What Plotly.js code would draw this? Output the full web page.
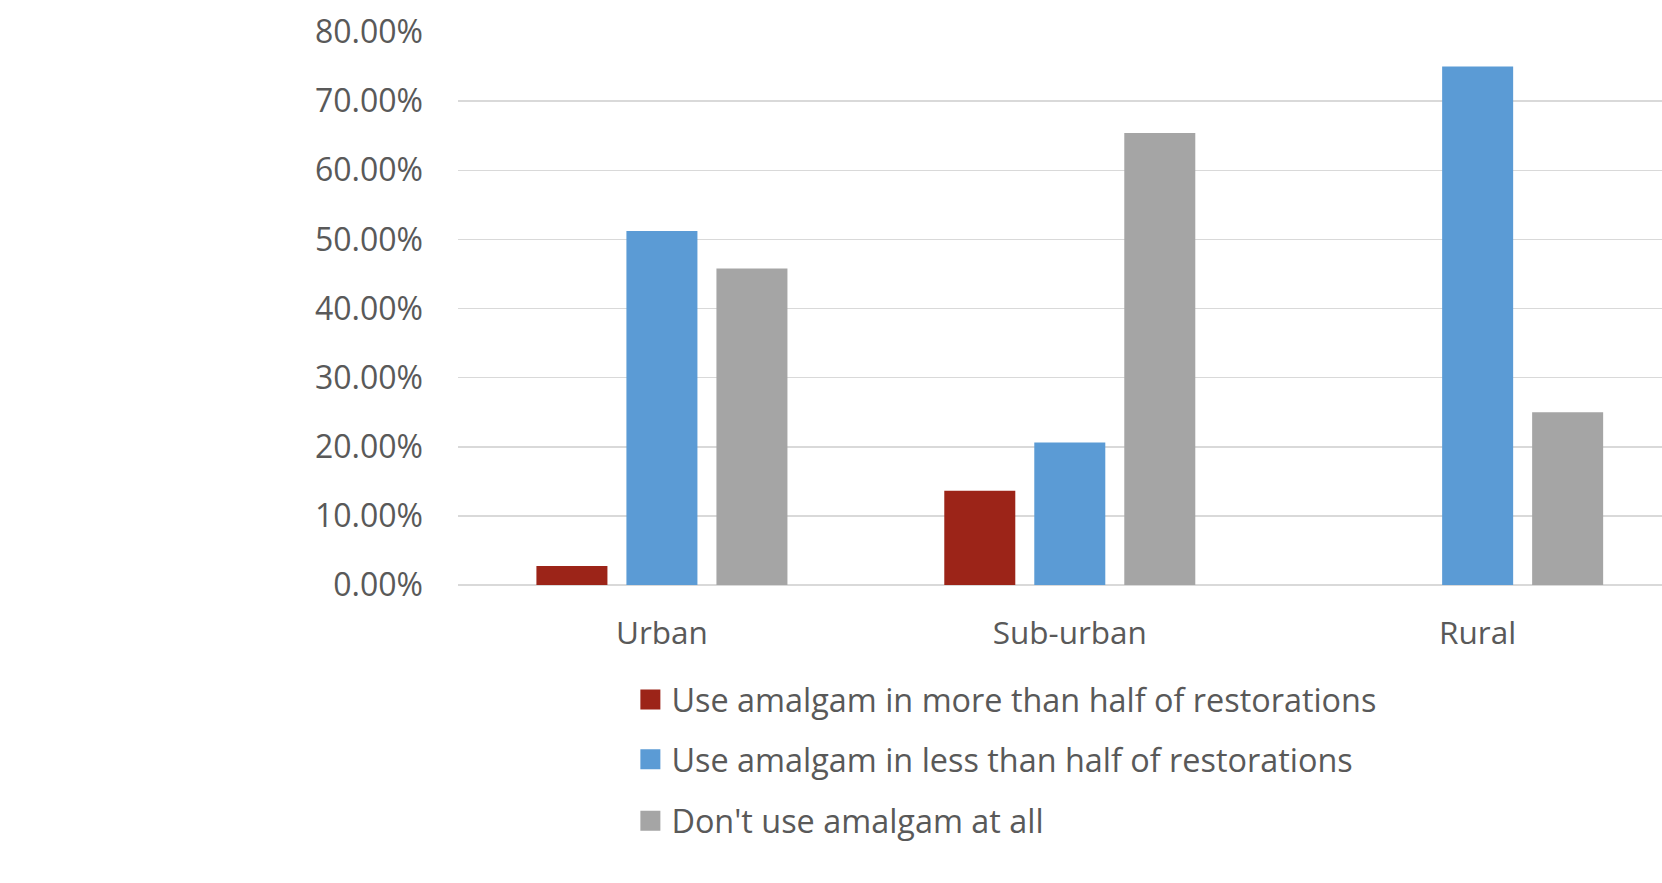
<!DOCTYPE html>
<html>
<head>
<meta charset="utf-8">
<script src="https://cdn.plot.ly/plotly-3.0.1.min.js"></script>
<style>
  html, body { margin: 0; padding: 0; background: #ffffff; overflow: hidden; }
  #chart { width: 1662px; height: 883px; }
</style>
</head>
<body>
<div id="chart"></div>
<script>
// Area types on the x axis
const categories = ["Urban", "Sub-urban", "Rural"];

// Share of respondents (%) for each amalgam-use group
const moreThanHalf = [2.75, 13.65, 0];
const lessThanHalf = [51.2, 20.6, 75.0];
const notAtAll = [45.8, 65.4, 25.0];

// Y axis ticks and their labels
const yTickValues = [0, 10, 20, 30, 40, 50, 60, 70, 80];
const yTickLabels = ["0.00%", "10.00%", "20.00%", "30.00%", "40.00%", "50.00%", "60.00%", "70.00%", "80.00%"];

const seriesNames = [
  "Use amalgam in more than half of restorations",
  "Use amalgam in less than half of restorations",
  "Don't use amalgam at all"
];
const seriesColors = ["#9C2418", "#5B9BD5", "#A5A5A5"];
const seriesValues = [moreThanHalf, lessThanHalf, notAtAll];
const legendIds = ["legend", "legend2", "legend3"];

const textColor = "#595959";
const fontFamily = "'Open Sans', sans-serif";

const traces = seriesValues.map((vals, i) => ({
  type: "bar",
  name: seriesNames[i],
  x: categories,
  y: vals,
  marker: { color: seriesColors[i], line: { width: 0 } },
  legend: legendIds[i],
  hoverinfo: "skip"
}));

// One legend per series, stacked below the plot
const legendYs = [-0.208, -0.316, -0.427];
function legendSpec(y) {
  return {
    x: 0.144, xanchor: "left",
    y: y, yanchor: "middle",
    bgcolor: "rgba(0,0,0,0)",
    borderwidth: 0,
    font: { family: fontFamily, size: 32.4, color: textColor },
    itemclick: false, itemdoubleclick: false
  };
}

const layout = {
  width: 1662,
  height: 883,
  margin: { l: 458, r: 0, t: 32, b: 298, pad: 0 },
  paper_bgcolor: "#ffffff",
  plot_bgcolor: "#ffffff",
  barmode: "group",
  bargap: 0.338,
  bargroupgap: 0.211,
  showlegend: true,
  legend: legendSpec(legendYs[0]),
  legend2: legendSpec(legendYs[1]),
  legend3: legendSpec(legendYs[2]),
  font: { family: fontFamily, color: textColor },
  xaxis: {
    type: "category",
    range: [-0.5, 2.452],
    showgrid: false,
    zeroline: false,
    showline: false,
    ticks: "",
    ticklabelstandoff: 26,
    tickfont: { family: fontFamily, size: 31.5, color: textColor },
    fixedrange: true
  },
  yaxis: {
    range: [0, 80],
    tickmode: "array",
    tickvals: yTickValues,
    ticktext: yTickLabels,
    showgrid: true,
    gridcolor: "#D9D9D9",
    gridwidth: 1.5,
    zeroline: true,
    zerolinecolor: "#D9D9D9",
    zerolinewidth: 1.5,
    showline: false,
    ticks: "",
    ticklabelstandoff: 34,
    tickfont: { family: fontFamily, size: 32, color: textColor },
    fixedrange: true
  }
};

Plotly.newPlot("chart", traces, layout, { displayModeBar: false, staticPlot: true }).then(() => {
  // Larger square legend swatches, placed just left of their labels
  document.querySelectorAll(".legendpoints path").forEach(p => {
    p.setAttribute("d", "M9,10H-11V-10H9Z");
  });
});
</script>
</body>
</html>
